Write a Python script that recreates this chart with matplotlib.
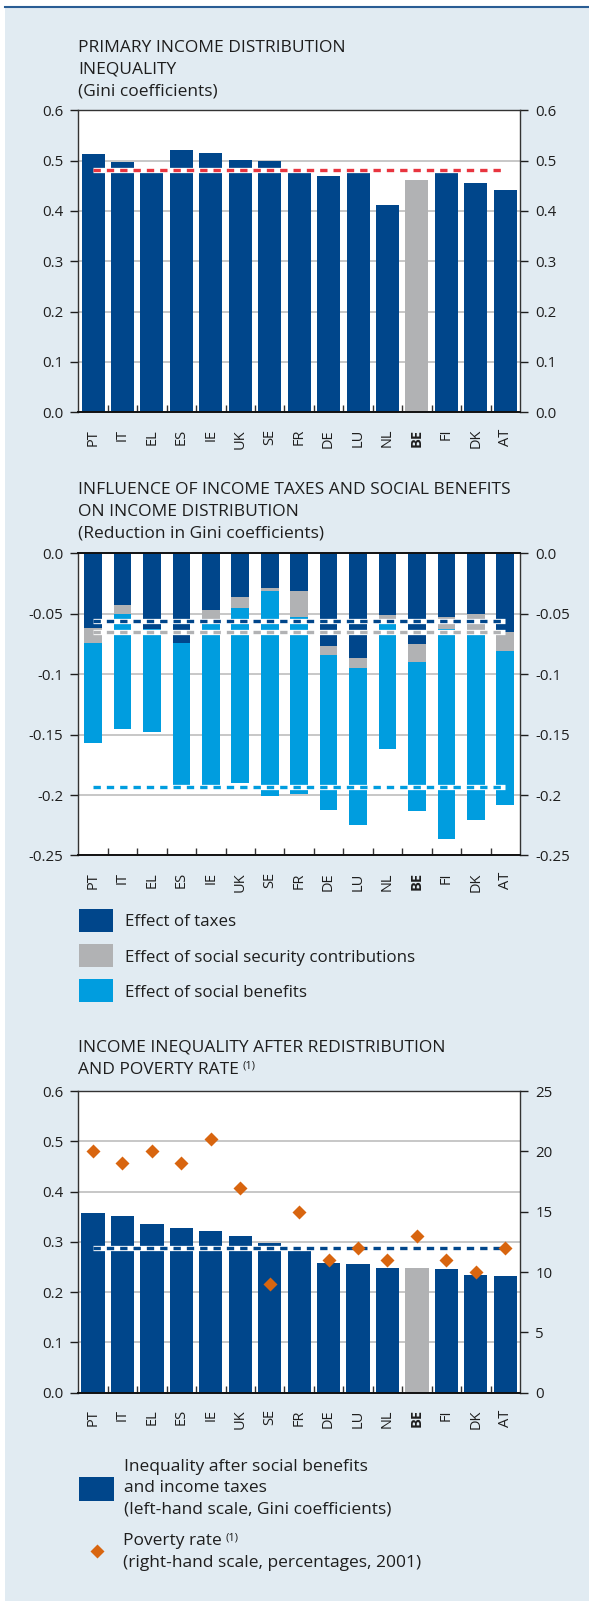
## Importation
import numpy as np
import matplotlib.pyplot as plt
from matplotlib.patches import Rectangle
from matplotlib.lines import Line2D
from matplotlib.ticker import FuncFormatter

plt.rcParams['font.family'] = ['Open Sans', 'DejaVu Sans']

## Données
pays = ['PT', 'IT', 'EL', 'ES', 'IE', 'UK', 'SE', 'FR', 'DE', 'LU', 'NL', 'BE', 'FI', 'DK', 'AT']

# inégalité du revenu primaire (Gini)
gini_primaire = [0.513, 0.497, 0.485, 0.521, 0.515, 0.501, 0.499, 0.485, 0.470, 0.479,
                 0.412, 0.462, 0.479, 0.456, 0.442]

# réduction du Gini : impôts, cotisations sociales, prestations sociales
effet_impots = [-0.062, -0.043, -0.063, -0.074, -0.047, -0.036, -0.029, -0.031, -0.077, -0.087,
                -0.051, -0.075, -0.053, -0.050, -0.065]
effet_cotisations = [-0.012, -0.007, 0.0, 0.0, -0.007, -0.009, -0.002, -0.022, -0.007, -0.008,
                     -0.007, -0.015, -0.010, -0.017, -0.016]
effet_prestations = [-0.083, -0.095, -0.085, -0.118, -0.139, -0.145, -0.170, -0.146, -0.128, -0.130,
                     -0.104, -0.123, -0.173, -0.154, -0.127]

# inégalité après redistribution (Gini) et taux de pauvreté (%)
gini_apres = [0.357, 0.351, 0.335, 0.327, 0.321, 0.311, 0.298, 0.284, 0.258, 0.256,
              0.248, 0.248, 0.246, 0.234, 0.232]
taux_pauvrete = [20, 19, 20, 19, 21, 17, 9, 15, 11, 12, 11, 13, 11, 10, 12]

## Style
W, H = 589, 1601
BLEU = '#00468b'
GRIS = '#b1b2b4'
BLEU_CLAIR = '#009ddf'
FOND = '#e1ebf2'
ROUGE = '#e8353f'
ORANGE = '#d8650f'
TEXTE = '#1e1e1e'
GRILLE = '#b8b8b8'
T_TITRE = 12.5
T_LEG = 12.2


def fx(x):
    return x / W


def fy(y):
    return 1 - y / H


def nouvel_axe(haut, bas):
    return fig.add_axes([fx(78.3), fy(bas), (520 - 78.3) / W, (bas - haut) / H])


def habiller(ax, ticks, fmt):
    "axes, grille, graduations communes aux trois graphiques"
    ax.set_xlim(-0.5, len(pays) - 0.5)
    ax.set_ylim(min(ticks), max(ticks))
    ax.set_yticks(ticks)
    ax.yaxis.set_major_formatter(FuncFormatter(fmt))
    ax.yaxis.grid(True, color=GRILLE, lw=1.1)
    ax.set_axisbelow(True)
    ax.tick_params(axis='y', direction='out', length=6, width=1, pad=5,
                   labelsize=10.8, colors=TEXTE, right=True, labelright=True)
    ax.set_xticks(range(len(pays)))
    ax.set_xticklabels(pays, rotation=90)
    ax.set_xticks(np.arange(0.5, len(pays) - 1, 1), minor=True)
    ax.tick_params(axis='x', which='major', length=0, pad=12, labelsize=10.5, colors=TEXTE)
    ax.tick_params(axis='x', which='minor', direction='in', length=5, width=1, color='#333333')
    ax.get_xticklabels()[pays.index('BE')].set_fontweight('bold')
    for s in ax.spines.values():
        s.set_color('#333333')
        s.set_linewidth(1)
    ax.spines['bottom'].set_linewidth(1.4)
    ax.spines['bottom'].set_color('#111111')


def moyenne(ax, val, couleur):
    ax.plot([0, len(pays) - 1], [val, val], color='white', lw=3.8, solid_capstyle='butt', zorder=4)
    ax.plot([0, len(pays) - 1], [val, val], color=couleur, lw=2.4, dashes=(2.2, 1.8),
            dash_capstyle='butt', zorder=5)


def texte(x, y, s, taille):
    # +2 px : le centre visuel des majuscules est un peu plus bas que celui de la boîte
    return fig.text(fx(x), fy(y + 2), s, fontsize=taille, color=TEXTE, va='center', ha='left')


def titre(lignes, y0):
    return [texte(78, y0 + 21.5 * i, l, T_TITRE) for i, l in enumerate(lignes)]


def renvoi(t):
    "petit (1) en exposant juste après un texte"
    bb = t.get_window_extent(fig.canvas.get_renderer())
    fig.text((bb.x1 + 4) / W, (bb.y1 + 1) / H, '(1)', fontsize=8, color=TEXTE, va='top', ha='left')


fig = plt.figure(figsize=(W / 100, H / 100), dpi=100)
fig.patch.set_facecolor('white')
fig.add_artist(Rectangle((fx(5), 0), 1 - fx(5), fy(8), transform=fig.transFigure,
                         facecolor=FOND, edgecolor='none', zorder=-10))
fig.add_artist(Line2D([fx(5), 1], [fy(6.8), fy(6.8)], transform=fig.transFigure,
                      color='#2a5d94', lw=1.5, zorder=-9))

x = np.arange(len(pays))
couleurs = [GRIS if p == 'BE' else BLEU for p in pays]

## Graphique 1
titre(['PRIMARY INCOME DISTRIBUTION', 'INEQUALITY', '(Gini coefficients)'], 46)
ax1 = nouvel_axe(110.3, 412.3)
ax1.bar(x, gini_primaire, width=0.78, color=couleurs, zorder=2)
habiller(ax1, np.round(np.arange(0, 0.61, 0.1), 1), lambda v, p: '%.1f' % v)
moyenne(ax1, np.mean(gini_primaire), ROUGE)

## Graphique 2
titre(['INFLUENCE OF INCOME TAXES AND SOCIAL BENEFITS', 'ON INCOME DISTRIBUTION',
       '(Reduction in Gini coefficients)'], 488)
ax2 = nouvel_axe(553.3, 855.5)
impots = np.array(effet_impots)
cotis = np.array(effet_cotisations)
prest = np.array(effet_prestations)
ax2.bar(x, impots, width=0.6, color=BLEU, zorder=2)
ax2.bar(x, cotis, bottom=impots, width=0.6, color=GRIS, zorder=2)
ax2.bar(x, prest, bottom=impots + cotis, width=0.6, color=BLEU_CLAIR, zorder=2)
habiller(ax2, np.round(np.arange(-0.25, 0.001, 0.05), 2),
         lambda v, p: '0.0' if abs(v) < 1e-9 else '%g' % round(v, 2))
ax2.spines['top'].set_color('#111111')
ax2.spines['top'].set_linewidth(1.4)
moyenne(ax2, np.mean(impots), BLEU)
moyenne(ax2, np.mean(impots + cotis), GRIS)
moyenne(ax2, np.mean(impots + cotis + prest), BLEU_CLAIR)

# légende
legende2 = [(BLEU, 'Effect of taxes'), (GRIS, 'Effect of social security contributions'),
            (BLEU_CLAIR, 'Effect of social benefits')]
for i, (c, lab) in enumerate(legende2):
    yc = 920.3 + 35.3 * i
    fig.add_artist(Rectangle((fx(79), fy(yc + 11.5)), 34 / W, 23 / H, transform=fig.transFigure,
                             facecolor=c, edgecolor='none'))
    texte(125, yc, lab, T_LEG)

## Graphique 3
t3 = titre(['INCOME INEQUALITY AFTER REDISTRIBUTION', 'AND POVERTY RATE'], 1046)
ax3 = nouvel_axe(1091, 1392.7)
ax3.bar(x, gini_apres, width=0.79, color=couleurs, zorder=2)
habiller(ax3, np.round(np.arange(0, 0.61, 0.1), 1), lambda v, p: '%.1f' % v)
ax3.tick_params(axis='y', right=False, labelright=False)
moyenne(ax3, np.mean(gini_apres), BLEU)

ax3b = ax3.twinx()
ax3b.set_ylim(0, 25)
ax3b.set_yticks(range(0, 26, 5))
ax3b.tick_params(axis='y', direction='out', length=6, width=1, pad=5, labelsize=10.8, colors=TEXTE)
for s in ax3b.spines.values():
    s.set_visible(False)
ax3b.plot(x, taux_pauvrete, 'D', color=ORANGE, ms=7, mec='none', zorder=6)

# légende
fig.add_artist(Rectangle((fx(79), fy(1500.7)), 35 / W, 24 / H, transform=fig.transFigure,
                         facecolor=BLEU, edgecolor='none'))
for i, l in enumerate(['Inequality after social benefits', 'and income taxes',
                       '(left-hand scale, Gini coefficients)']):
    texte(124, 1465 + 21.4 * i, l, 12.5)
fig.add_artist(Line2D([fx(96.6)], [fy(1551)], transform=fig.transFigure, marker='D',
                      color=ORANGE, ms=7, mec='none', ls='none'))
tp = texte(123, 1539.3, 'Poverty rate', 12.5)
texte(123, 1560.5, '(right-hand scale, percentages, 2001)', 12.5)

renvoi(t3[1])
renvoi(tp)

fig.savefig('out.png', dpi=100)
